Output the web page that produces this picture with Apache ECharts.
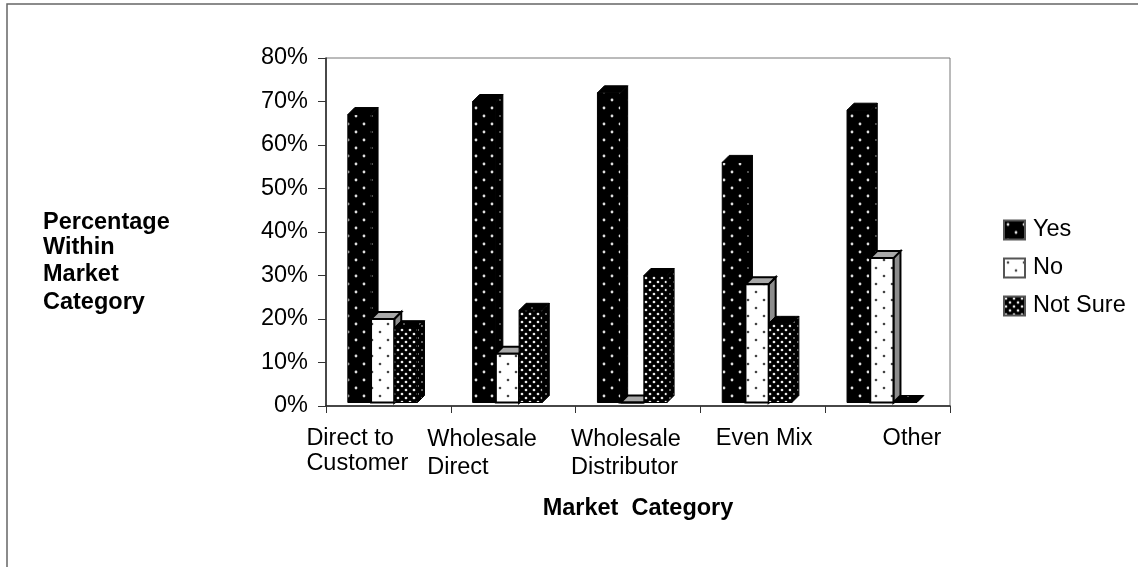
<!DOCTYPE html>
<html><head><meta charset="utf-8">
<style>html,body{margin:0;padding:0;background:#fff}#c{width:1138px;height:567px}</style>
<script src="https://cdn.jsdelivr.net/npm/echarts@6/dist/echarts.min.js"></script>
</head><body><div id="c"></div>
<script>
const categories = ['Direct to\nCustomer','Wholesale\nDirect','Wholesale\nDistributor','Even Mix','Other'];
const seriesNames = ['Yes','No','Not Sure'];
const yesValues = [67,70,72,56,68];
const noValues = [20,12,0,28,34];
const notSureValues = [18,22,30,19,0];
const yTicks = {min:0,max:80,interval:10};
const labelPad = [48,44,63,83,125];
const labelLeading = [25,28,28,25,25];

function tile(size,bg,dot,pts,r){
  const c=document.createElement('canvas');c.width=size;c.height=size;
  const g=c.getContext('2d');g.fillStyle=bg;g.fillRect(0,0,size,size);g.fillStyle=dot;
  pts.forEach(p=>{g.beginPath();g.arc(p[0],p[1],r,0,Math.PI*2);g.fill();});
  return {image:c,repeat:'repeat'};
}
const sparseDark = tile(16,'#000','#e0e0e0',[[4,4],[12,12]],1.4);
const sparseSide = tile(16,'#000','#777',[[4,4],[12,12]],0.9);
const sparseLight = tile(16,'#fff','#444',[[4,4],[12,12]],1.3);
const denseDark = tile(8,'#000','#ececec',[[2,2],[6,6]],1.35);
const denseSide = tile(8,'#000','#888',[[2,2],[6,6]],1);

const looks = [
 {front:sparseDark,side:sparseSide,top:'#000',stroke:'#000',sw:1},
 {front:sparseLight,side:'#8c8c8c',top:'#a8a8a8',stroke:'#000',sw:2},
 {front:denseDark,side:denseSide,top:sparseSide,stroke:'#000',sw:1}
];
const barFrac = 0.186, startFrac = -0.325, depthX = 7, depthY = 7, baseLift = 3.5;

function renderBar(params,api){
  const i = params.seriesIndex, L = looks[i];
  const cat = api.value(0), val = api.value(1);
  const unit = api.size([1,0])[0];
  const w = unit*barFrac;
  const center = api.coord([cat,0]);
  const x0 = center[0]+unit*startFrac+i*w;
  const base = center[1]-baseLift;
  const yTop = Math.min(api.coord([cat,val])[1],base);
  const x1 = x0+w;
  const st = {stroke:L.stroke,lineWidth:L.sw};
  return {type:'group',children:[
    {type:'polygon',shape:{points:[[x1,yTop],[x1+depthX,yTop-depthY],[x1+depthX,base-depthY],[x1,base]]},style:Object.assign({fill:L.side},st)},
    {type:'polygon',shape:{points:[[x0,yTop],[x0+depthX,yTop-depthY],[x1+depthX,yTop-depthY],[x1,yTop]]},style:Object.assign({fill:L.top},st)},
    {type:'rect',shape:{x:x0,y:yTop,width:w,height:base-yTop},style:Object.assign({fill:L.front},st)}
  ]};
}
const font = '"Liberation Sans", Arial, sans-serif', fs = 23.5;
const rich = {};
labelPad.forEach((p,i)=>{rich['l'+i]={width:260-p,align:'left',padding:[0,0,0,p],fontSize:fs,fontFamily:font,color:'#000',lineHeight:labelLeading[i]};});

const mk = (name,vals)=>({
  name,type:'custom',renderItem:renderBar,clip:false,
  itemStyle:{color:looks[seriesNames.indexOf(name)].front,borderColor:'#555',borderWidth:1},
  encode:{x:0,y:1},
  data:vals.map((v,k)=>[k,v])
});
const chart = echarts.init(document.getElementById('c'),null,{renderer:'canvas'});
chart.setOption({
  animation:false,
  backgroundColor:'#fff',
  graphic:[{type:'rect',z:-1,shape:{x:7,y:4,width:1200,height:640},style:{fill:'none',stroke:'#666',lineWidth:1.5}}],
  title:{
    left:43,top:210,padding:0,
    text:'{a|Percentage}\n{b|Within}\n{c|Market}\n{c|Category}',
    textStyle:{rich:{
      a:{fontSize:fs,fontWeight:'bold',fontFamily:font,color:'#000',lineHeight:25},
      b:{fontSize:fs,fontWeight:'bold',fontFamily:font,color:'#000',lineHeight:26},
      c:{fontSize:fs,fontWeight:'bold',fontFamily:font,color:'#000',lineHeight:28}
    }}
  },
  grid:{left:326,right:188,top:58,bottom:161,show:true,borderColor:'#777',borderWidth:1,backgroundColor:'transparent'},
  legend:{
    orient:'vertical',left:998,top:213,itemWidth:21,itemHeight:19,itemGap:14,icon:'rect',
    data:seriesNames,
    textStyle:{fontSize:fs,fontFamily:font,color:'#000',padding:[0,0,0,3]}
  },
  xAxis:{
    type:'category',data:categories,
    name:'Market  Category',nameLocation:'middle',nameGap:91,
    nameTextStyle:{fontSize:fs,fontWeight:'bold',fontFamily:font,color:'#000'},
    axisLine:{lineStyle:{color:'#222',width:1.5}},
    axisTick:{show:true,alignWithLabel:false,length:7,lineStyle:{color:'#333'}},
    axisLabel:{interval:0,margin:20,hideOverlap:false,
      formatter:(v,i)=>v.split('\n').map(s=>'{l'+i+'|'+s+'}').join('\n'),rich}
  },
  yAxis:{
    type:'value',min:yTicks.min,max:yTicks.max,interval:yTicks.interval,
    splitLine:{show:false},
    axisLine:{show:true,lineStyle:{color:'#222',width:1.5}},
    axisTick:{show:true,length:8,lineStyle:{color:'#333'}},
    axisLabel:{margin:18,formatter:'{value}%',fontSize:fs,fontFamily:font,color:'#000'}
  },
  series:[mk('Yes',yesValues),mk('No',noValues),mk('Not Sure',notSureValues)]
});
</script></body></html>
